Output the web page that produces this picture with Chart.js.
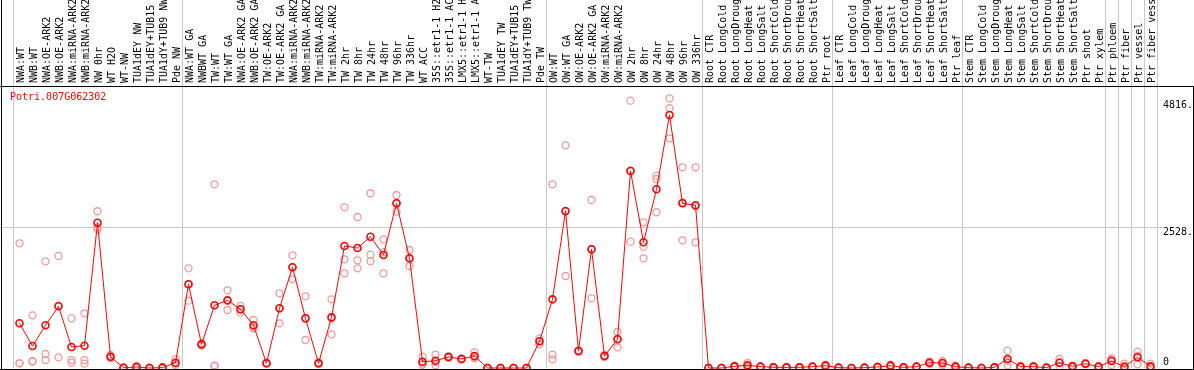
<!DOCTYPE html>
<html><head><meta charset="utf-8">
<script src="https://cdn.jsdelivr.net/npm/chart.js@4.4.1/dist/chart.umd.min.js"></script>
<style>html,body{margin:0;padding:0;background:#fff;overflow:hidden}#wrap{width:1194px;height:370px}</style>
</head><body><div id="wrap"><canvas id="c" width="1194" height="370"></canvas></div>
<script>
const geneTitle = 'Potri.007G062302';
const categories = [
 'NWA:WT','NWB:WT','NWA:OE-ARK2','NWB:OE-ARK2','NWA:miRNA-ARK2','NWB:miRNA-ARK2','NW 0hr','WT H2O','WT-NW','TUA1dEY NW','TUA1dEY+TUB15 NW','TUA1dY+TUB9 NW','Pde NW',
 'NWA:WT GA','NWBWT GA','TW:WT','TW:WT GA','NWA:OE-ARK2 GA','NWB:OE-ARK2 GA','TW:OE-ARK2','TW:OE-ARK2 GA','NWA:miRNA-ARK2 GA','NWB:miRNA-ARK2 GA','TW:miRNA-ARK2','TW:miRNA-ARK2 GA',
 'TW 2hr','TW 8hr','TW 24hr','TW 48hr','TW 96hr','TW 336hr','WT ACC','35S::etr1-1 H2O','35S::etr1-1 ACC','LMX5::etr1-1 H2O','LMX5::etr1-1 ACC','WT-TW','TUA1dEY TW','TUA1dEY+TUB15 TW','TUA1dY+TUB9 TW','Pde TW',
 'OW:WT','OW:WT GA','OW:OE-ARK2','OW:OE-ARK2 GA','OW:miRNA-ARK2','OW:miRNA-ARK2 GA','OW 2hr','OW 8hr','OW 24hr','OW 48hr','OW 96hr','OW 336hr',
 'Root CTR','Root LongCold','Root LongDrought','Root LongHeat','Root LongSalt','Root ShortCold','Root ShortDrought','Root ShortHeat','Root ShortSalt','Ptr root',
 'Leaf CTR','Leaf LongCold','Leaf LongDrought','Leaf LongHeat','Leaf LongSalt','Leaf ShortCold','Leaf ShortDrought','Leaf ShortHeat','Leaf ShortSalt','Ptr leaf',
 'Stem CTR','Stem LongCold','Stem LongDrought','Stem LongHeat','Stem LongSalt','Stem ShortCold','Stem ShortDrought','Stem ShortHeat','Stem ShortSalt','Ptr shoot','Ptr xylem',
 'Ptr phloem','Ptr fiber','Ptr vessel','Ptr fiber vessel'
];
const meanValues = [
 807,397,771,1114,379,403,2624,204,5,18,0,6,96,
 1511,427,1132,1222,1060,771,85,1078,1819,897,85,915,
 2203,2167,2371,2041,2974,1981,114,132,199,163,217,0,0,0,0,482,
 1240,2835,307,2144,217,518,3558,2270,3227,4569,2974,2938,
 0,0,30,48,24,12,12,12,24,42,
 6,0,6,18,42,12,24,96,90,24,
 6,0,12,163,24,24,6,96,30,78,24,
 126,24,193,30
];
const rep1 = [
 2252,951,1927,2023,897,988,2830,235,10,42,0,18,157,
 1800,450,3317,1403,1120,867,95,1349,2035,1295,100,1240,
 2902,2727,3155,2323,3124,2131,204,240,215,175,283,0,0,0,0,536,
 3317,4021,320,3034,235,650,4827,2631,3473,4870,3624,3624,
 0,0,42,90,30,18,18,18,30,60,
 12,0,12,30,60,18,30,120,126,48,
 12,0,18,313,36,36,12,163,42,90,36,
 175,78,295,78
];
const rep2 = [
 85,114,253,1126,144,144,2541,202,5,6,0,0,78,
 1517,420,48,1216,1060,736,85,1078,1819,890,85,897,
 1963,1945,2046,2090,2975,1970,80,110,199,163,195,0,0,0,0,482,
 240,2823,307,2144,217,530,3566,2191,3413,4690,2992,2920,
 0,0,30,36,24,12,12,12,24,42,
 6,0,6,18,42,12,24,96,90,18,
 6,0,12,128,24,24,6,101,30,78,24,
 149,0,218,12
];
const rep3 = [
 84,126,144,193,96,78,2500,175,0,6,0,0,54,
 1216,411,31,1047,999,710,75,807,1602,506,70,608,
 1710,1800,1927,1710,2823,1842,58,48,183,151,175,0,0,0,0,428,
 157,1661,294,1259,199,374,2281,1981,2812,4148,2306,2270,
 0,0,18,18,18,6,6,6,18,24,
 0,0,0,6,24,6,18,72,54,6,
 0,0,6,48,12,12,0,24,18,66,12,
 54,0,66,0
];
const groupBoundaries = [0,13,41,53,63,73,84,85,86,87,88];
const yTicks = [0, 2528, 4816];
const yMax = 5074;

const monoFont = {family: "'DejaVu Sans Mono', monospace", size: 10};
const gridGray = '#c8c8c8';
const clear = 'rgba(0,0,0,0)';

const framePlugin = {
  id: 'frame',
  afterDraw(chart) {
    const ctx = chart.ctx, a = chart.chartArea, W = chart.width, H = chart.height;
    ctx.save();
    ctx.strokeStyle = '#000'; ctx.lineWidth = 1;
    ctx.beginPath();
    ctx.moveTo(0, a.top - 0.5); ctx.lineTo(W, a.top - 0.5);
    ctx.moveTo(1.5, 0); ctx.lineTo(1.5, H);
    ctx.moveTo(W - 0.5, a.top - 0.5); ctx.lineTo(W - 0.5, H);
    ctx.moveTo(0, H - 0.5); ctx.lineTo(W, H - 0.5);
    ctx.stroke();
    ctx.fillStyle = '#ff0000';
    ctx.font = "10px 'DejaVu Sans Mono', monospace";
    ctx.textBaseline = 'alphabetic'; ctx.textAlign = 'left';
    ctx.fillText(geneTitle, 10, a.top + 13);
    ctx.restore();
  }
};

const noPad = s => { s.paddingTop = 0; s.paddingBottom = 0; s.paddingLeft = 0; s.paddingRight = 0; };

const repStyle = {
  type: 'line', showLine: false, pointRadius: 3.5, pointBorderWidth: 1.3,
  pointBorderColor: '#f09a9a', pointBackgroundColor: clear, borderColor: '#f09a9a',
  clip: false, yAxisID: 'y', xAxisID: 'x'
};

new Chart(document.getElementById('c'), {
  type: 'line',
  data: {
    labels: categories,
    datasets: [
      {data: meanValues, borderColor: '#ff0000', borderWidth: 1, tension: 0,
       pointRadius: 3.5, pointBorderWidth: 1.6, pointBorderColor: '#ff0000',
       pointBackgroundColor: clear, clip: false, yAxisID: 'y', xAxisID: 'x'},
      Object.assign({data: rep1}, repStyle),
      Object.assign({data: rep2}, repStyle),
      Object.assign({data: rep3}, repStyle)
    ]
  },
  options: {
    responsive: false, animation: false, devicePixelRatio: 1,
    layout: {autoPadding: false, padding: {top: 0, left: 0, right: 0, bottom: 2}},
    plugins: {legend: {display: false}, tooltip: {enabled: false}, title: {display: false}},
    events: [],
    scales: {
      x: {
        type: 'category', position: 'top', offset: true,
        grid: {offset: true, drawTicks: true, tickLength: 87, lineWidth: 1,
               color: c => (c.type === 'scale' || groupBoundaries.includes(c.index)) ? gridGray : clear},
        border: {display: false},
        ticks: {autoSkip: false, maxRotation: 90, minRotation: 90, padding: -83, labelOffset: 14,
                font: monoFont, color: '#000'},
        afterFit: s => { s.height = 87; noPad(s); }
      },
      y: {
        type: 'linear', position: 'right', min: 0, max: yMax,
        afterBuildTicks: s => { s.ticks = yTicks.map(v => ({value: v})); },
        afterFit: s => { s.width = 37; noPad(s); },
        grid: {drawTicks: true, tickLength: 6, lineWidth: 1,
               color: c => (c.tick && c.tick.value === 2528) ? gridGray : clear},
        border: {display: false},
        ticks: {padding: 0, labelOffset: 4, color: '#000',
                font: {family: monoFont.family, size: 10, lineHeight: 2},
                callback: v => v === 0 ? ['0', ''] : v + '.'}
      },
      yL: {
        type: 'linear', position: 'left', min: 0, max: yMax,
        afterBuildTicks: s => { s.ticks = [{value: 2528}]; },
        afterFit: s => { s.width = 13; noPad(s); },
        grid: {drawTicks: true, tickLength: 13, lineWidth: 1, color: gridGray},
        border: {display: false},
        ticks: {display: false}
      }
    }
  },
  plugins: [framePlugin]
});
</script></body></html>
